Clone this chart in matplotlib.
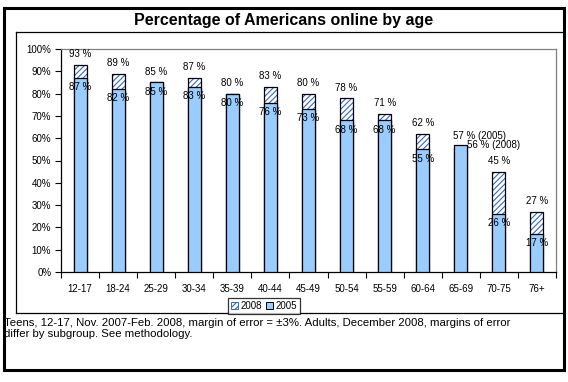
import matplotlib
matplotlib.use('Agg')
import matplotlib.pyplot as plt
from matplotlib.patches import Rectangle, Patch
from matplotlib.lines import Line2D
from matplotlib.ticker import PercentFormatter

plt.rcParams['font.family'] = ['Liberation Sans', 'DejaVu Sans']
plt.rcParams['hatch.linewidth'] = 0.8

grupos = ['12-17', '18-24', '25-29', '30-34', '35-39', '40-44', '45-49',
          '50-54', '55-59', '60-64', '65-69', '70-75', '76+']
val_2008 = [93, 89, 85, 87, 80, 83, 80, 78, 71, 62, 56, 45, 27]
val_2005 = [87, 82, 85, 83, 80, 76, 73, 68, 68, 55, 57, 26, 17]

titulo = 'Percentage of Americans online by age'
nota = ('Teens, 12-17, Nov. 2007-Feb. 2008, margin of error = \u00b13%. Adults, December 2008, margins of error\n'
        'differ by subgroup. See methodology.')

azul = '#99ccff'
rayado = '#3366cc'

W, H = 568, 382
fig = plt.figure(figsize=(W / 100, H / 100), dpi=100)

def fx(px):
    return px / W

def fy(py):
    return 1 - py / H

# marcos
fig.patches.append(Rectangle((fx(4), fy(370)), fx(560), 362 / H, transform=fig.transFigure,
                             fill=False, edgecolor='black', linewidth=2.2))
fig.lines.append(Line2D([fx(16), fx(564)], [fy(32), fy(32)], transform=fig.transFigure,
                        color='black', linewidth=0.9))
fig.lines.append(Line2D([fx(16), fx(16)], [fy(32), fy(313)], transform=fig.transFigure,
                        color='black', linewidth=0.9))
fig.lines.append(Line2D([fx(16), fx(564)], [fy(313), fy(313)], transform=fig.transFigure,
                        color='black', linewidth=0.9))

fig.text(fx(284), fy(20), titulo, ha='center', va='center', fontsize=11.5, fontweight='bold')

ax = fig.add_axes([fx(61), fy(272), 495 / W, 223 / H])
x = list(range(len(grupos)))
ancho = 0.34
# 2008: rayado azul + borde negro
ax.bar(x, val_2008, width=ancho, color='white', edgecolor=rayado, hatch='//////',
       linewidth=0, zorder=2)
ax.bar(x, val_2008, width=ancho, fill=False, edgecolor='black', linewidth=0.9, zorder=2.5)
ax.bar(x, val_2005, width=ancho, color=azul, edgecolor='black', linewidth=0.9, zorder=3)

ax.set_xlim(-0.5, len(grupos) - 0.5)
ax.set_ylim(0, 100)
ax.set_yticks(range(0, 101, 10))
ax.yaxis.set_major_formatter(PercentFormatter(100, decimals=0))
ax.set_xticks(x)
ax.set_xticklabels(grupos)
ax.set_xticks([i - 0.5 for i in range(len(grupos) + 1)], minor=True)
ax.tick_params(axis='x', which='major', length=0, pad=9, labelsize=7)
ax.tick_params(axis='x', which='minor', length=4, width=0.8, direction='out')
ax.tick_params(axis='y', length=4, width=0.8, labelsize=7, pad=3)
for s in ['top', 'right']:
    ax.spines[s].set_color('#808080')
    ax.spines[s].set_linewidth(0.9)
for s in ['left', 'bottom']:
    ax.spines[s].set_linewidth(0.9)

for i, (a, b) in enumerate(zip(val_2008, val_2005)):
    if grupos[i] == '65-69':
        ax.annotate(f'{b} % (2005)', (i - ancho / 2, b), xytext=(-1, 3),
                    textcoords='offset points', ha='left', va='bottom', fontsize=7, zorder=5)
        ax.annotate(f'{a} % (2008)', (i + ancho / 2, b), xytext=(0, 0),
                    textcoords='offset points', ha='left', va='center', fontsize=7, zorder=5)
        continue
    ax.annotate(f'{a} %', (i, a), xytext=(0, 4), textcoords='offset points',
                ha='center', va='bottom', fontsize=7, zorder=5)
    ax.annotate(f'{b} %', (i, b), xytext=(0, -3), textcoords='offset points',
                ha='center', va='top', fontsize=7, zorder=5)

h = [Patch(facecolor='white', edgecolor=rayado, hatch='//////', linewidth=0.7),
     Patch(facecolor=azul, edgecolor='black', linewidth=0.7)]
leg = fig.legend(h, ['2008', '2005'], loc='center', bbox_to_anchor=(fx(264), fy(306)),
                 ncol=2, fontsize=7, frameon=True, fancybox=False, edgecolor='black',
                 handlelength=0.7, handleheight=0.7, handletextpad=0.2, columnspacing=0.5,
                 borderpad=0.3, borderaxespad=0)
leg.get_frame().set_linewidth(0.9)

fig.text(fx(4), fy(318), nota, ha='left', va='top', fontsize=8.2, linespacing=1.15)

fig.savefig('out.png', dpi=100)
